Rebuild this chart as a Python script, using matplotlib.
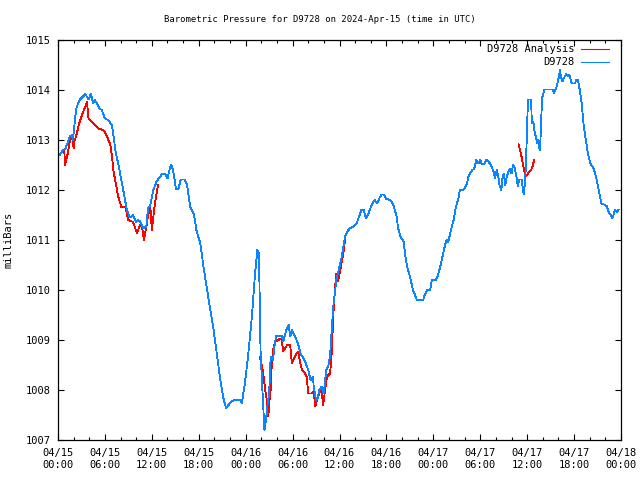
import matplotlib
matplotlib.use("Agg")
import matplotlib.pyplot as plt
import matplotlib.ticker as mticker
import numpy as np

# hours since 2024-04-15 00:00 UTC, pressure in mb
obs_hours = [0.2, 0.7, 0.9, 1.2, 1.5, 1.8, 1.9, 2.0, 2.2, 2.4, 2.7, 2.8, 3.2, 3.5, 3.9,
             4.2, 4.5, 4.7, 5.3, 5.6, 6.0, 6.4, 6.9, 7.1, 7.4, 7.7, 8.1, 8.5, 8.8, 9.2,
             9.6, 10.0, 10.2, 10.5, 10.9, 11.3, 11.5, 11.8, 12.2, 12.6, 13.3, 13.7, 14.0,
             14.3, 14.5, 14.7, 15.1, 15.4, 15.7, 16.2, 16.5, 16.9, 17.4, 17.7, 18.2, 18.6,
             19.0, 19.4, 19.9, 20.3, 20.7, 21.1, 21.5, 21.8, 22.2, 22.6, 23.3, 23.5, 23.9,
             24.3, 24.8, 25.2, 25.5, 25.7, 25.9, 26.1, 26.4, 26.6, 26.8, 27.0, 27.2, 27.5,
             27.7, 27.9, 28.6, 28.8, 29.2, 29.5, 29.7, 29.9, 30.3, 30.7, 31.0, 31.4, 31.7,
             32.0, 32.3, 32.6, 32.7, 33.0, 33.2, 33.4, 33.7, 34.0, 34.3, 34.6, 34.8, 35.0,
             35.2, 35.4, 35.6, 36.0, 36.3, 36.7, 37.0, 37.3, 37.8, 38.2, 38.5, 38.8, 39.1,
             39.4, 39.7, 40.1, 40.5, 40.8, 41.2, 41.4, 41.7, 42.0, 42.5, 42.9, 43.3, 43.5,
             43.8, 44.2, 44.4, 44.6, 45.0, 45.4, 45.9, 46.7, 46.9, 47.2, 47.6, 47.8, 48.3,
             48.6, 48.9, 49.5, 49.7, 49.9, 50.3, 50.6, 50.9, 51.2, 51.4, 51.9, 52.3, 52.5,
             52.7, 53.0, 53.2, 53.5, 53.8, 54.0, 54.2, 54.5, 54.8, 55.3, 55.7, 55.9, 56.1,
             56.3, 56.5, 56.7, 56.8, 57.0, 57.2, 57.4, 57.6, 57.8, 58.0, 58.2, 58.4, 58.7,
             58.8, 59.0, 59.3, 59.5, 59.6, 59.8, 59.9, 60.1, 60.5, 60.6, 60.8, 60.9, 61.1,
             61.3, 61.4, 61.6, 61.7, 61.9, 62.2, 63.3, 63.4, 63.7, 63.9, 64.1, 64.2, 64.3,
             64.5, 64.8, 65.0, 65.2, 65.4, 65.7, 66.1, 66.3, 66.5, 66.8, 67.0, 67.2, 67.5,
             67.8, 68.1, 68.5, 68.7, 68.9, 69.2, 69.5, 70.0, 70.2, 70.4, 70.7, 70.9, 71.1,
             71.2, 71.5, 71.7, 71.8]
obs_mb = [1012.70, 1012.81, 1012.81, 1012.93, 1013.07, 1013.10, 1013.00, 1013.13, 1013.47,
          1013.67, 1013.77, 1013.81, 1013.87, 1013.92, 1013.81, 1013.92, 1013.73, 1013.81,
          1013.63, 1013.60, 1013.43, 1013.40, 1013.30, 1013.07, 1012.73, 1012.53, 1012.20,
          1011.87, 1011.60, 1011.45, 1011.50, 1011.35, 1011.40, 1011.37, 1011.23, 1011.27,
          1011.63, 1011.70, 1012.00, 1012.17, 1012.32, 1012.32, 1012.23, 1012.43, 1012.51,
          1012.40, 1012.02, 1012.02, 1012.21, 1012.21, 1012.10, 1011.67, 1011.50, 1011.20,
          1010.93, 1010.47, 1010.07, 1009.67, 1009.20, 1008.73, 1008.27, 1007.87, 1007.63,
          1007.70, 1007.77, 1007.80, 1007.80, 1007.73, 1008.13, 1008.67, 1009.47, 1010.33,
          1010.80, 1010.73, 1008.80, 1008.13, 1007.20, 1007.40, 1007.70, 1007.93, 1008.67,
          1008.60, 1008.90, 1009.08, 1009.08, 1008.97, 1009.20, 1009.30, 1009.07, 1009.20,
          1009.07, 1008.93, 1008.73, 1008.63, 1008.53, 1008.40, 1008.20, 1008.27, 1008.07,
          1007.80, 1007.83, 1008.00, 1008.07, 1007.93, 1008.40, 1008.50, 1008.70, 1009.20,
          1009.67, 1009.93, 1010.20, 1010.47, 1010.67, 1011.07, 1011.17, 1011.23, 1011.27,
          1011.33, 1011.47, 1011.60, 1011.60, 1011.43, 1011.53, 1011.70, 1011.80, 1011.73,
          1011.87, 1011.91, 1011.91, 1011.82, 1011.80, 1011.70, 1011.47, 1011.23, 1011.07,
          1010.97, 1010.70, 1010.50, 1010.27, 1010.00, 1009.80, 1009.80, 1009.90, 1010.00,
          1010.00, 1010.20, 1010.20, 1010.30, 1010.48, 1010.90, 1011.00, 1010.95, 1011.23,
          1011.40, 1011.67, 1011.83, 1012.00, 1012.01, 1012.13, 1012.27, 1012.33, 1012.41,
          1012.41, 1012.60, 1012.53, 1012.60, 1012.52, 1012.52, 1012.61, 1012.52, 1012.37,
          1012.23, 1012.40, 1012.27, 1012.07, 1012.00, 1012.20, 1012.33, 1012.10, 1012.27,
          1012.37, 1012.43, 1012.33, 1012.50, 1012.45, 1012.20, 1012.07, 1012.21, 1012.21,
          1011.97, 1011.92, 1012.37, 1012.80, 1013.81, 1013.81, 1013.33, 1013.37, 1013.20,
          1013.07, 1012.93, 1013.00, 1012.80, 1013.00, 1013.83, 1014.01, 1014.01, 1013.93,
          1014.03, 1014.15, 1014.30, 1014.41, 1014.27, 1014.17, 1014.27, 1014.33, 1014.27,
          1014.31, 1014.13, 1014.13, 1014.20, 1014.21, 1013.93, 1013.70, 1013.33, 1013.00,
          1012.70, 1012.53, 1012.43, 1012.33, 1012.20, 1011.97, 1011.73, 1011.70, 1011.67,
          1011.57, 1011.50, 1011.43, 1011.53, 1011.60, 1011.55, 1011.61, 1011.61]

# analysis, three separate pieces
ana1_hours = [0.8, 0.9, 1.1, 1.3, 1.5, 1.7, 1.9, 2.0, 2.1, 2.4, 2.7, 3.0, 3.3, 3.6, 3.7,
              3.9, 4.5, 5.2, 5.8, 6.2, 6.7, 6.9, 7.1, 7.4, 7.7, 8.1, 8.6, 9.0, 9.6, 10.1,
              10.5, 10.7, 11.0, 11.3, 11.5, 11.8, 12.0, 12.2, 12.4, 12.6, 12.8]
ana1_mb = [1012.80, 1012.50, 1012.63, 1012.77, 1012.97, 1013.07, 1013.00, 1012.83, 1012.97,
           1013.13, 1013.33, 1013.47, 1013.60, 1013.70, 1013.77, 1013.43, 1013.33, 1013.23,
           1013.20, 1013.10, 1012.90, 1012.67, 1012.37, 1012.13, 1011.87, 1011.66, 1011.66,
           1011.40, 1011.36, 1011.14, 1011.30, 1011.30, 1011.00, 1011.27, 1011.47, 1011.70,
           1011.20, 1011.47, 1011.73, 1011.93, 1012.10]
ana2_hours = [25.8, 26.1, 26.3, 26.5, 26.7, 26.9, 27.0, 27.2, 27.3, 27.5, 27.8, 28.2, 28.4,
              28.6, 28.8, 29.3, 29.7, 29.9, 30.3, 30.7, 31.0, 31.2, 31.6, 31.8, 32.0, 32.4,
              32.7, 32.9, 33.1, 33.3, 33.5, 33.7, 33.9, 34.1, 34.4, 34.8, 35.0, 35.2, 35.4,
              35.6, 35.8, 36.1, 36.3, 36.5, 36.7]
ana2_mb = [1008.67, 1008.47, 1008.27, 1008.00, 1007.80, 1007.47, 1007.73, 1008.00, 1008.40,
           1008.80, 1008.97, 1009.00, 1009.03, 1009.00, 1008.77, 1008.90, 1008.90, 1008.53,
           1008.67, 1008.77, 1008.53, 1008.40, 1008.33, 1008.27, 1007.93, 1007.93, 1007.97,
           1007.67, 1007.80, 1007.87, 1007.97, 1008.00, 1007.70, 1007.93, 1008.27, 1008.33,
           1008.73, 1009.47, 1010.00, 1010.33, 1010.17, 1010.40, 1010.57, 1010.73, 1011.00]
ana3_hours = [58.9, 59.2, 59.4, 59.6, 59.8, 59.9, 60.1, 60.5, 60.7, 60.9]
ana3_mb = [1012.92, 1012.73, 1012.57, 1012.40, 1012.27, 1012.28, 1012.33, 1012.40, 1012.47,
           1012.61]

tick_labels = ["04/15\n00:00", "04/15\n06:00", "04/15\n12:00", "04/15\n18:00",
               "04/16\n00:00", "04/16\n06:00", "04/16\n12:00", "04/16\n18:00",
               "04/17\n00:00", "04/17\n06:00", "04/17\n12:00", "04/17\n18:00",
               "04/18\n00:00"]

plt.rcParams['font.family'] = 'DejaVu Sans Mono'
plt.rcParams['font.size'] = 7.5

fig = plt.figure(figsize=(6.4, 4.8), dpi=100)
ax = fig.add_axes([58/640, 40/480, 563/640, 400/480])

red = '#ff0000'
blue = '#0a84ff'

# red analysis pieces, NaN between them so it is one legend entry
ana_h = ana1_hours + [np.nan] + ana2_hours + [np.nan] + ana3_hours
ana_v = ana1_mb + [np.nan] + ana2_mb + [np.nan] + ana3_mb
ax.plot(ana_h, ana_v, color=red, lw=0.6, antialiased=False, label='D9728 Analysis')
ax.plot(obs_hours, obs_mb, color=blue, lw=0.6, antialiased=False, label='D9728')

ax.set_xlim(0, 72)
ax.set_ylim(1007, 1015)
ax.xaxis.set_major_locator(mticker.FixedLocator(np.arange(0, 73, 6)))
ax.xaxis.set_minor_locator(mticker.MultipleLocator(2))
ax.set_xticklabels(tick_labels, linespacing=1.25)
ax.yaxis.set_major_locator(mticker.MultipleLocator(1))
ax.yaxis.set_major_formatter(mticker.FormatStrFormatter('%d'))

ax.tick_params(which='both', direction='in', top=True, right=True, width=0.8)
ax.tick_params(which='major', length=4.5, pad=5)
ax.tick_params(which='minor', length=2.5)
ax.tick_params(axis='x', which='major', pad=6)
for s in ax.spines.values():
    s.set_linewidth(0.9)

ax.set_ylabel('milliBars', labelpad=9)
fig.text(0.5, 1 - 19/480, 'Barometric Pressure for D9728 on 2024-Apr-15 (time in UTC)',
         ha='center', va='center', fontsize=6.4)

leg = ax.legend(loc='upper right', bbox_to_anchor=(1 - 5/563, 1 + 3/400),
                frameon=False, markerfirst=False, handlelength=2.7,
                handletextpad=0.6, labelspacing=0.3, borderaxespad=0.3,
                borderpad=0.4, fontsize=7.5)
for line in leg.get_lines():
    line.set_linewidth(0.8)

fig.savefig('out.png', dpi=100)
